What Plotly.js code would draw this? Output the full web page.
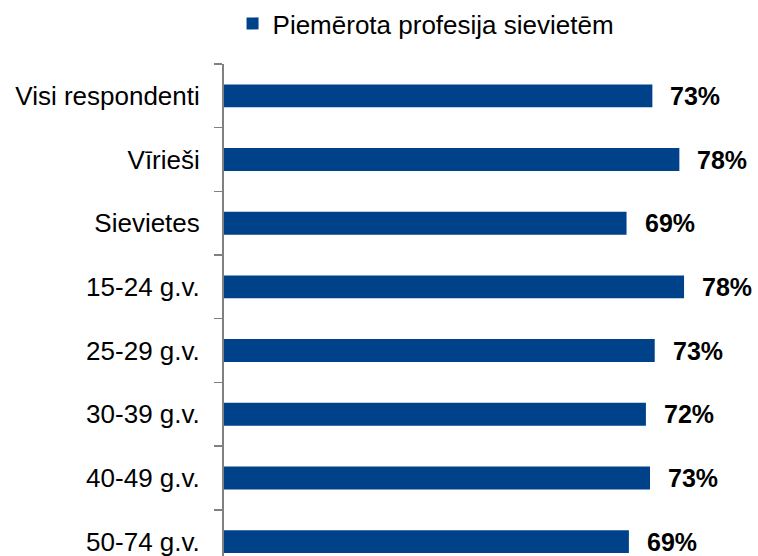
<!DOCTYPE html>
<html>
<head>
<meta charset="utf-8">
<script src="https://cdn.plot.ly/plotly-3.0.1.min.js"></script>
<style>html,body{margin:0;padding:0;background:#fff;}#chart{width:758px;height:556px;}</style>
</head>
<body>
<div id="chart"></div>
<script>
const categories = ["Visi respondenti", "Vīrieši", "Sievietes", "15-24 g.v.", "25-29 g.v.", "30-39 g.v.", "40-49 g.v.", "50-74 g.v."];
const values = [73.0, 77.6, 68.6, 78.4, 73.4, 71.9, 72.6, 69.0];
const valueLabels = ["73%", "78%", "69%", "78%", "73%", "72%", "73%", "69%"];
const seriesName = "Piemērota profesija sievietēm";

const font = "Liberation Sans, Arial, sans-serif";

const trace = {
  type: "bar",
  orientation: "h",
  x: values,
  y: categories,
  name: seriesName,
  width: 0.36,
  marker: {color: "#00428a", line: {width: 0}},
  hoverinfo: "none",
  showlegend: true
};

const annotations = values.map((v, i) => ({
  x: v, y: categories[i], xref: "x", yref: "y",
  text: "<b>" + valueLabels[i] + "</b>",
  showarrow: false, xanchor: "left", yanchor: "middle",
  xshift: 16, yshift: 0,
  font: {family: font, size: 25, color: "#000"}
}));

const layout = {
  width: 758, height: 556,
  margin: {l: 224, r: 0, t: 60, b: 0, pad: 0},
  paper_bgcolor: "#fff", plot_bgcolor: "#fff",
  font: {family: font, size: 26, color: "#000"},
  showlegend: true,
  legend: {
    x: 0.016, xanchor: "left", y: 1.083, yanchor: "middle",
    orientation: "h", bgcolor: "rgba(0,0,0,0)",
    font: {family: font, size: 26, color: "#000"},
    itemclick: false
  },
  xaxis: {
    range: [0, 91.0], showgrid: false, zeroline: false,
    showticklabels: false, ticks: "", showline: false, fixedrange: true
  },
  yaxis: {
    type: "category", categoryorder: "array", categoryarray: categories,
    range: [7.226, -0.5], autorange: false,
    showgrid: false, zeroline: false,
    showline: true, linecolor: "#808080", linewidth: 2,
    ticks: "outside", tickson: "boundaries", ticklen: 8, tickwidth: 1.5, tickcolor: "#808080",
    ticklabelstandoff: 17,
    tickfont: {family: font, size: 26, color: "#000"},
    fixedrange: true
  },
  annotations: annotations
};

Plotly.newPlot("chart", [trace], layout, {displayModeBar: false, staticPlot: true});
</script>
</body>
</html>
